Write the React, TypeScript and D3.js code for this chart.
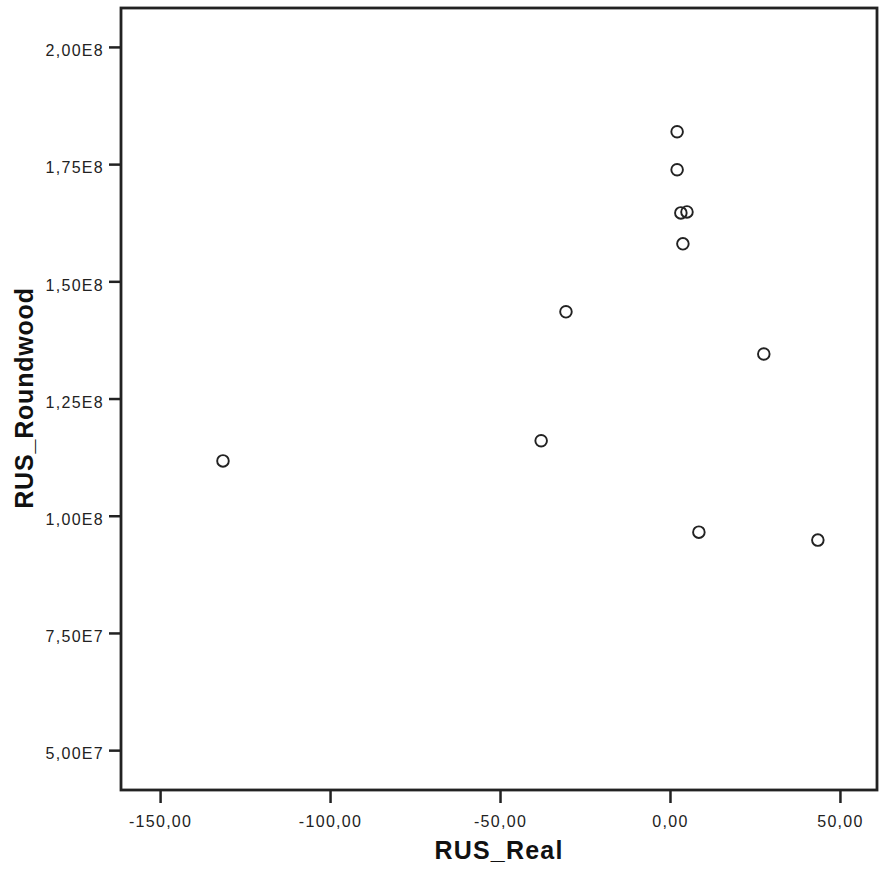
import React, { useEffect, useRef } from "react";
import * as d3 from "d3";

// data
const rusReal = [2.1, 2.1, 3.2, 5.0, 3.8, -30.6, 27.6, -37.9, -131.5, 8.5, 43.5];
const rusRoundwood = [
  1.819e8, 1.738e8, 1.646e8, 1.648e8, 1.58e8, 1.435e8, 1.345e8, 1.16e8, 1.117e8, 0.965e8, 0.948e8,
];
const xTicks = [-150, -100, -50, 0, 50];
const yTicks = [5e7, 7.5e7, 1e8, 1.25e8, 1.5e8, 1.75e8, 2e8];

const fmtX = (v: number) => d3.format(".2f")(v).replace("−", "-").replace(".", ",");
const fmtY = (v: number) => {
  const s = d3.format(".2e")(v); // 2.00e+8
  const [m, e] = s.split("e");
  return m.replace(".", ",") + "E" + String(+e);
};

const FONT = "Arial, 'Liberation Sans', sans-serif";

export default function App() {
  const svgRef = useRef<SVGSVGElement>(null);

  useEffect(() => {
    document.body.style.margin = "0";
    const W = 882;
    const H = 872;
    const left = 121, right = 877, top = 8, bottom = 790;

    const svg = d3.select(svgRef.current);
    svg.selectAll("*").remove();
    svg.attr("width", W).attr("height", H);

    svg.append("rect").attr("width", W).attr("height", H).attr("fill", "#fff");

    const x = d3.scaleLinear().domain([-161.5, 60.9]).range([left, right]);
    const y = d3.scaleLinear().domain([4.15e7, 2.083e8]).range([bottom, top]);

    // x axis
    const gx = svg.append("g")
      .attr("transform", `translate(0,${bottom})`)
      .call(d3.axisBottom(x).tickValues(xTicks).tickFormat((d) => fmtX(+d)).tickSize(13));
    gx.select(".domain").remove();
    gx.selectAll("line").attr("stroke", "#222").attr("stroke-width", 2.5);
    gx.selectAll("text")
      .attr("y", 37)
      .attr("dy", null)
      .attr("fill", "#222")
      .attr("font-family", FONT)
      .attr("font-size", 16)
      .attr("letter-spacing", 1.3);

    // y axis
    const gy = svg.append("g")
      .attr("transform", `translate(${left},0)`)
      .call(d3.axisLeft(y).tickValues(yTicks).tickFormat((d) => fmtY(+d)).tickSize(12));
    gy.select(".domain").remove();
    gy.selectAll("line").attr("stroke", "#222").attr("stroke-width", 2.5);
    gy.selectAll("text")
      .attr("x", -17)
      .attr("dy", "0.55em")
      .attr("fill", "#222")
      .attr("font-family", FONT)
      .attr("font-size", 16)
      .attr("letter-spacing", 1.3);

    // frame
    svg.append("rect")
      .attr("x", left).attr("y", top)
      .attr("width", right - left).attr("height", bottom - top)
      .attr("fill", "none").attr("stroke", "#222").attr("stroke-width", 2.8);

    // points
    svg.append("g")
      .selectAll("circle")
      .data(rusReal.map((v, i) => ({ x: v, y: rusRoundwood[i] })))
      .enter()
      .append("circle")
      .attr("cx", (d) => x(d.x))
      .attr("cy", (d) => y(d.y))
      .attr("r", 5.8)
      .attr("fill", "none")
      .attr("stroke", "#222")
      .attr("stroke-width", 1.9);

    // axis titles
    svg.append("text")
      .attr("x", 499)
      .attr("y", 859)
      .attr("text-anchor", "middle")
      .attr("font-family", FONT)
      .attr("font-weight", "bold")
      .attr("font-size", 25)
      .attr("letter-spacing", 1.2)
      .attr("fill", "#111")
      .text("RUS_Real");

    svg.append("text")
      .attr("transform", `translate(33,${398}) rotate(-90)`)
      .attr("text-anchor", "middle")
      .attr("font-family", FONT)
      .attr("font-weight", "bold")
      .attr("font-size", 25)
      .attr("letter-spacing", 0.8)
      .attr("fill", "#111")
      .text("RUS_Roundwood");
  }, []);

  return <svg ref={svgRef} style={{ display: "block" }}></svg>;
}
